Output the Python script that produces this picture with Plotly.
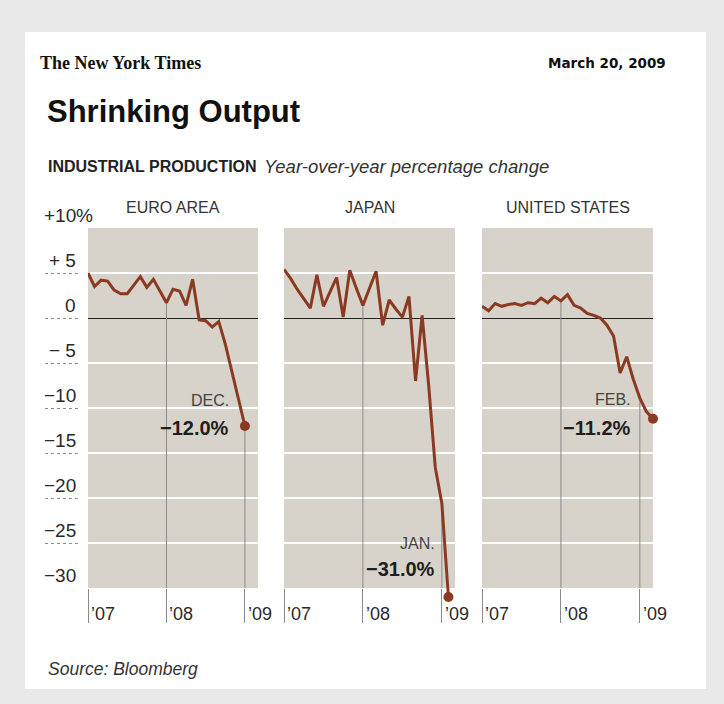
import plotly.graph_objects as go

# ---------------- data ----------------
panel_names = ["EURO AREA", "JAPAN", "UNITED STATES"]
end_months = ["DEC.", "JAN.", "FEB."]

# monthly year-over-year % change, first point = Dec 2006
euro_values = [5.0, 3.5, 4.2, 4.1, 3.1, 2.7, 2.7, 3.7, 4.6, 3.4, 4.3, 3.0, 1.7,
               3.2, 3.0, 1.4, 4.3, -0.2, -0.3, -1.0, -0.4, -2.9, -5.9, -9.0, -12.0]
japan_values = [5.4, 4.4, 3.2, 2.2, 1.1, 4.8, 1.3, 2.9, 4.5, 0.1, 5.3, 3.3, 1.4,
                3.3, 5.2, -0.8, 2.0, 1.0, 0.1, 2.4, -7.0, 0.3, -7.5, -16.6, -20.6, -31.0]
us_values = [1.3, 0.8, 1.6, 1.3, 1.5, 1.6, 1.4, 1.7, 1.6, 2.2, 1.7, 2.4, 1.9,
             2.6, 1.4, 1.1, 0.5, 0.3, 0.0, -0.8, -2.0, -6.1, -4.3, -6.8, -8.9, -10.4, -11.2]
series = [euro_values, japan_values, us_values]

year_ticks = [0, 12, 24]
year_labels = ["\u201907", "\u201908", "\u201909"]
y_ticks = [10, 5, 0, -5, -10, -15, -20, -25, -30]
y_labels = ["+10", "+ 5", "0", "\u2212 5", "\u221210", "\u221215", "\u221220", "\u221225", "\u221230"]
grid_vals = [5, -5, -10, -15, -20, -25]
y_range = [-30, 10]

# ---------------- styling ----------------
W, H = 724, 704
LINE = "#8b3a22"
PANEL_BG = "#d7d3cb"
TXT = "#2a2a2a"
SANS = "Liberation Sans, Arial, sans-serif"


def px(x):
    return x / W


def py(y):
    return 1 - y / H


panel_x = [(88, 258), (284, 455), (482, 653)]
panel_top, panel_bot = 228, 588
extra_px = 20  # extra room below the panel so the data line/marker can run past the bottom
ydom = [py(panel_bot), py(panel_top)]
ydom_ext = [py(panel_bot + extra_px), py(panel_top)]
unit_px = (panel_bot - panel_top) / (y_range[1] - y_range[0])
y_range_ext = [y_range[0] - extra_px / unit_px, y_range[1]]

label_shift = [  # (xshift, value yshift, month yshift)
    (-14, -2, 26),
    (-11, 28, 54),
    (-20, -9, 19),
]

fig = go.Figure()
layout = dict(
    width=W, height=H,
    margin=dict(l=0, r=0, t=0, b=0),
    paper_bgcolor="#e9e9e9",
    plot_bgcolor="rgba(0,0,0,0)",
    showlegend=False,
)
shapes = [dict(type="rect", xref="paper", yref="paper", x0=px(25), x1=px(706),
               y0=py(689), y1=py(32), fillcolor="white", line=dict(width=0), layer="below")]
annotations = []

for k, vals in enumerate(series):
    sx = "" if k == 0 else str(k + 1)
    xa, ya = "x" + sx, "y" + sx
    ye = "y" + str(k + 5)  # extended axis for the data line
    months = list(range(len(vals)))
    fig.add_trace(go.Scatter(x=[None], y=[None], xaxis=xa, yaxis=ya, hoverinfo="skip"))
    fig.add_trace(go.Scatter(x=months, y=vals, mode="lines", xaxis=xa, yaxis=ye,
                             line=dict(color=LINE, width=3), hoverinfo="skip"))
    fig.add_trace(go.Scatter(x=[months[-1]], y=[vals[-1]], mode="markers", xaxis=xa, yaxis=ye,
                             marker=dict(color=LINE, size=10), cliponaxis=False, hoverinfo="skip"))
    layout["xaxis" + sx] = dict(domain=[px(panel_x[k][0]), px(panel_x[k][1])], range=[0, 26],
                                anchor=ya, tickvals=year_ticks, ticks="outside", ticklen=34,
                                tickwidth=1, tickcolor="#8a8a8a", showticklabels=False,
                                showgrid=False, zeroline=False, showline=False, fixedrange=True)
    layout["yaxis" + sx] = dict(domain=ydom, range=y_range, anchor=xa, tickvals=grid_vals,
                                showgrid=True, gridcolor="white", gridwidth=2,
                                zeroline=True, zerolinecolor="#222", zerolinewidth=1,
                                showticklabels=False, ticks="", showline=False, fixedrange=True)
    layout["yaxis" + str(k + 5)] = dict(domain=ydom_ext, range=y_range_ext, anchor=xa,
                                        showgrid=False, zeroline=False, showticklabels=False,
                                        ticks="", showline=False, fixedrange=True)
    # panel background
    shapes.append(dict(type="rect", xref=xa + " domain", yref=ya + " domain", x0=0, x1=1, y0=0, y1=1,
                       fillcolor=PANEL_BG, line=dict(width=0), layer="below"))
    # vertical year lines from the data down to the bottom
    for t in year_ticks[1:]:
        shapes.append(dict(type="line", xref=xa, yref=ya, x0=t, x1=t, y0=vals[t], y1=y_range[0],
                           line=dict(color="#8a8a8a", width=1), layer="between"))
    # year labels
    for t, lab in zip(year_ticks, year_labels):
        annotations.append(dict(x=t, xref=xa, y=py(614), yref="paper", text=lab, showarrow=False,
                                xanchor="left", yanchor="middle", xshift=1,
                                font=dict(family=SANS, size=18, color=TXT)))
    # panel title
    annotations.append(dict(x=0.5, xref=xa + " domain", y=py(208), yref="paper", text=panel_names[k],
                            showarrow=False, xanchor="center", yanchor="middle",
                            font=dict(family=SANS, size=16, color="#333")))
    # end labels
    xs, ys_val, ys_mon = label_shift[k]
    annotations.append(dict(x=months[-1], xref=xa, y=vals[-1], yref=ye,
                            text="<b>\u2212%.1f%%</b>" % abs(vals[-1]), showarrow=False,
                            xanchor="right", yanchor="middle", xshift=xs, yshift=ys_val,
                            font=dict(family=SANS, size=20, color="#1e1e1e")))
    annotations.append(dict(x=months[-1], xref=xa, y=vals[-1], yref=ye,
                            text=end_months[k], showarrow=False,
                            xanchor="right", yanchor="middle", xshift=xs, yshift=ys_mon,
                            font=dict(family=SANS, size=16, color="#444")))

# helper subplot for the dotted guide lines under the y labels
fig.add_trace(go.Scatter(x=[None], y=[None], xaxis="x4", yaxis="y4", hoverinfo="skip"))
layout["xaxis4"] = dict(domain=[px(45), px(80)], range=[0, 1], anchor="y4", showgrid=False,
                        zeroline=False, showticklabels=False, ticks="", showline=False, fixedrange=True)
layout["yaxis4"] = dict(domain=ydom, range=y_range, anchor="x4", tickvals=y_ticks, showgrid=True,
                        gridcolor="#8c8c8c", gridwidth=1, griddash="dot", zeroline=False,
                        showticklabels=False, ticks="", showline=False, fixedrange=True)
for v, lab in zip(y_ticks, y_labels):
    annotations.append(dict(x=px(78), xref="paper", y=v, yref="y4", text=lab, showarrow=False,
                            xanchor="right", yanchor="bottom", yshift=0,
                            font=dict(family=SANS, size=19, color=TXT)))
annotations.append(dict(x=px(78), xref="paper", y=y_ticks[0], yref="y4", text="%", showarrow=False,
                        xanchor="left", yanchor="bottom", xshift=-4, yshift=0,
                        font=dict(family=SANS, size=19, color=TXT)))

# header / footer text
annotations += [
    dict(x=px(38), y=py(63), xref="paper", yref="paper", text="<b>The New York Times</b>",
         showarrow=False, xanchor="left", yanchor="middle",
         font=dict(family="Liberation Serif, DejaVu Serif, serif", size=18, color="#111")),
    dict(x=px(668), y=py(63), xref="paper", yref="paper", text="<b>March 20, 2009</b>",
         showarrow=False, xanchor="right", yanchor="middle",
         font=dict(family="DejaVu Sans, Verdana, sans-serif", size=13.5, color="#111")),
    dict(x=px(45), y=py(111), xref="paper", yref="paper", text="<b>Shrinking Output</b>",
         showarrow=False, xanchor="left", yanchor="middle",
         font=dict(family=SANS, size=31, color="#111")),
    dict(x=px(46), y=py(166), xref="paper", yref="paper", text="<b>INDUSTRIAL PRODUCTION</b>",
         showarrow=False, xanchor="left", yanchor="middle",
         font=dict(family=SANS, size=16, color="#222")),
    dict(x=px(262), y=py(166), xref="paper", yref="paper", text="<i>Year-over-year percentage change</i>",
         showarrow=False, xanchor="left", yanchor="middle",
         font=dict(family=SANS, size=18.5, color="#333")),
    dict(x=px(46), y=py(669), xref="paper", yref="paper", text="<i>Source: Bloomberg</i>",
         showarrow=False, xanchor="left", yanchor="middle",
         font=dict(family=SANS, size=17.5, color="#333")),
]

layout["shapes"] = shapes
layout["annotations"] = annotations
fig.update_layout(**layout)
fig.write_html("out.html",
               config={"displayModeBar": False},
               post_script="document.body.style.margin='0px';"
                           "document.body.style.background='#e9e9e9';"
                           "document.body.style.overflow='hidden';")
